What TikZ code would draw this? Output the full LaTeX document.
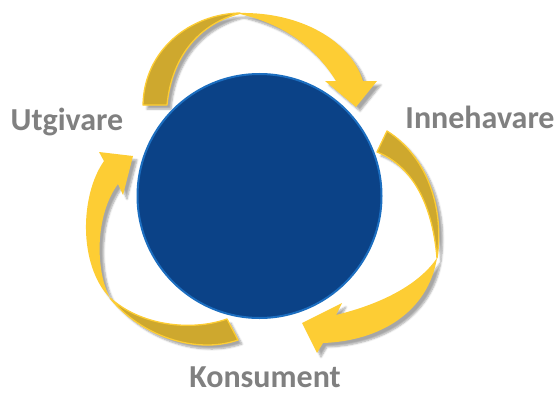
\documentclass[tikz,border=0pt]{standalone}
\usepackage{fontspec}
\setmainfont{Carlito}
\usetikzlibrary{shadows.blur}
\definecolor{ylight}{RGB}{253,205,52}
\definecolor{ydark}{RGB}{206,168,46}
\definecolor{cblue}{RGB}{11,66,135}
\definecolor{cedge}{RGB}{28,110,192}
\definecolor{tgray}{RGB}{128,128,128}
\tikzset{
  lightpart/.style={fill=ylight, blur shadow={shadow xshift=4pt, shadow yshift=-4pt, shadow blur steps=6, shadow opacity=35}},
  darkpart/.style={fill=ydark, draw=ylight, line width=1.3pt, line join=round},
  lbl/.style={text=tgray, font=\bfseries\fontsize{32}{32}\selectfont, anchor=base, inner sep=0pt},
  hub/.style={circle, fill=cblue, draw=cedge, line width=2pt, minimum size=244pt, inner sep=0pt}
}
\begin{document}
\begin{tikzpicture}[x=1pt,y=-1pt]
\useasboundingbox (0,0) rectangle (554,396);
% top arrow
\path[lightpart] (143,105) .. controls (144,50) and (190,14) .. (240,13) .. controls (300,12) and (350,40) .. (363,81)
  -- (377,81) -- (356,107) -- (325,81) -- (336,81) .. controls (318,52) and (290,26) .. (240,14)
  .. controls (200,24) and (172,55) .. (167,105) -- cycle;
\path[darkpart] (143,105) .. controls (144,50) and (190,14) .. (240,13) .. controls (200,24) and (172,55) .. (167,105) -- cycle;
% right arrow
\path[lightpart] (387,131) .. controls (425,155) and (445,205) .. (437,258) .. controls (428,312) and (380,341) .. (323,343)
  -- (317,353) -- (302,323) -- (342,303) -- (336,315) .. controls (385,303) and (420,283) .. (437,258)
  .. controls (432,200) and (410,165) .. (377,152) -- cycle;
\path[darkpart] (387,131) .. controls (425,155) and (445,205) .. (437,258) .. controls (432,200) and (410,165) .. (377,152) -- cycle;
% left arrow
\path[lightpart] (104,161) .. controls (80,195) and (78,265) .. (110,298) .. controls (140,335) and (195,355) .. (238,340)
  -- (227,319) .. controls (190,332) and (140,325) .. (110,298) .. controls (95,270) and (95,215) .. (118,184)
  -- (123,195) -- (133,156) -- (99,152) -- cycle;
\path[darkpart] (110,298) .. controls (140,335) and (195,355) .. (238,340) -- (227,319) .. controls (190,332) and (140,325) .. (110,298) -- cycle;
% hub
\node[hub] (hub) at (259.5,196) {};
% labels
\node[lbl] (utg) at (67,130) {Utgivare};
\node[lbl] (inn) at (480,128) {Innehavare};
\node[lbl] (kon) at (265,387) {Konsument};
\end{tikzpicture}
\end{document}
